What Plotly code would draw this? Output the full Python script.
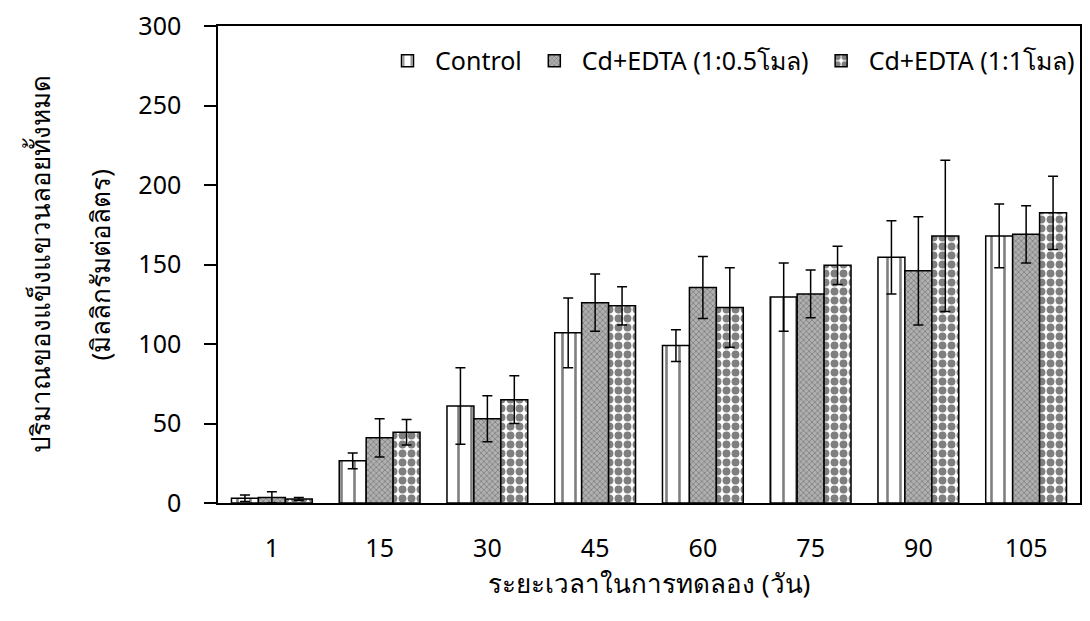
import plotly.graph_objects as go

categories = ["1", "15", "30", "45", "60", "75", "90", "105"]
control = [3, 26.5, 61, 107, 99, 129.5, 154.5, 168]
control_err = [2, 5, 24, 22, 10, 21.5, 23, 20]
cd05 = [3.5, 41, 53, 126, 135.5, 131.5, 146, 169]
cd05_err = [3.5, 12, 14.5, 18, 19.5, 15, 34, 18]
cd1 = [2.5, 44.5, 65, 124, 123, 149.5, 168, 182.5]
cd1_err = [1, 8, 15, 12, 25, 12, 47.5, 23]
series_names = ["Control", "Cd+EDTA (1:0.5โมล)", "Cd+EDTA (1:1โมล)"]
y_ticks = [0, 50, 100, 150, 200, 250, 300]
x_title = "ระยะเวลาในการทดลอง (วัน)"
y_title_1 = "ปริมาณของแข็งแขวนลอยทั้งหมด"
y_title_2 = "(มิลลิกรัมต่อลิตร)"

FONT = "Noto Sans, DejaVu Sans, sans-serif"

patterns = [
    dict(shape="|", fgcolor="black", bgcolor="white", size=13, solidity=0.2),
    dict(shape="x", fgcolor="#555555", bgcolor="#b0b0b0", size=4, solidity=0.4),
    dict(shape=".", fgcolor="black", bgcolor="white", size=9, solidity=0.6),
]

fig = go.Figure()
for name, vals, errs, pat in zip(series_names, [control, cd05, cd1],
                                 [control_err, cd05_err, cd1_err], patterns):
    fig.add_trace(go.Bar(
        x=categories, y=vals, name=name,
        marker=dict(color="white", line=dict(color="black", width=1.5), pattern=pat),
        error_y=dict(type="data", array=errs, visible=True, color="black",
                     thickness=1.5, width=5),
    ))

fig.update_layout(
    width=1090, height=621,
    margin=dict(l=218, r=8, t=25, b=118),
    paper_bgcolor="white", plot_bgcolor="white",
    barmode="group", bargap=0.25, bargroupgap=0,
    font=dict(family=FONT, size=25, color="black"),
    showlegend=True,
    legend=dict(orientation="h", x=1, xanchor="right", y=0.975, yanchor="top",
                font=dict(size=25), bgcolor="rgba(0,0,0,0)", itemwidth=45,
                tracegroupgap=0),
    xaxis=dict(showline=True, linecolor="black", linewidth=1.5, mirror=True,
               ticks="outside", ticklen=22, tickcolor="rgba(0,0,0,0)",
               tickfont=dict(size=25)),
    yaxis=dict(range=[0, 300], tickvals=y_ticks, showline=True, linecolor="black",
               linewidth=1.5, mirror=True, ticks="outside", ticklen=12,
               tickwidth=1.5, tickcolor="black", showgrid=False, zeroline=False,
               tickfont=dict(size=25), ticklabelstandoff=18),
    annotations=[
        dict(text=x_title, xref="paper", yref="paper", x=0.5, y=-0.168,
             xanchor="center", yanchor="middle", showarrow=False,
             font=dict(size=26)),
        dict(text=y_title_1, xref="paper", yref="paper", x=-0.207, y=0.5,
             xanchor="center", yanchor="middle", textangle=-90, showarrow=False,
             font=dict(size=26)),
        dict(text=y_title_2, xref="paper", yref="paper", x=-0.138, y=0.5,
             xanchor="center", yanchor="middle", textangle=-90, showarrow=False,
             font=dict(size=26)),
    ],
)

fig.write_html("out.html")
